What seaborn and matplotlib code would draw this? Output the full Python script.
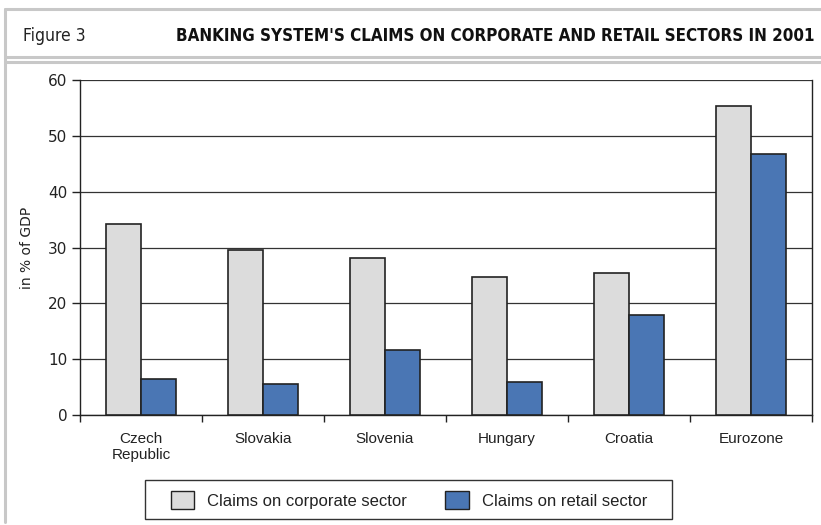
import matplotlib
matplotlib.use("Agg")
import matplotlib.pyplot as plt
import matplotlib.patches as mpatches
import matplotlib.lines as mlines
import seaborn as sns
import pandas as pd

categories = ["Czech\nRepublic", "Slovakia", "Slovenia", "Hungary", "Croatia", "Eurozone"]
corporate = [34.2, 29.6, 28.1, 24.7, 25.4, 55.4]
retail = [6.4, 5.6, 11.6, 5.9, 17.9, 46.8]
series_names = ["Claims on corporate sector", "Claims on retail sector"]
colors = ["#dcdcdc", "#4a76b4"]
yticks = [0, 10, 20, 30, 40, 50, 60]

df = pd.DataFrame({
    "country": categories * 2,
    "value": corporate + retail,
    "series": [series_names[0]] * len(categories) + [series_names[1]] * len(categories),
})

sns.set_theme(style="white")
plt.rcParams["font.family"] = ["Liberation Sans", "DejaVu Sans"]

fig = plt.figure(figsize=(8.21, 5.25), dpi=100)
W, H = 821, 525


def fx(x):
    return x / W


def fy(y):
    return 1 - y / H


# frame lines
gray = "#c8c8c8"
for (x0, y0, x1, y1) in [(5, 9, 821, 9), (5, 57, 821, 57), (5, 62, 821, 62), (5, 9, 5, 522)]:
    fig.add_artist(mlines.Line2D([fx(x0), fx(x1)], [fy(y0), fy(y1)], color=gray, lw=2.2,
                                 transform=fig.transFigure))

fig.text(fx(23), fy(36), "Figure 3", fontsize=12.5, color="#222222", va="center", ha="left",
         family="DejaVu Sans", fontstretch="condensed")
title = fig.text(fx(176), fy(36),
                 "BANKING SYSTEM'S CLAIMS ON CORPORATE AND RETAIL SECTORS IN 2001",
                 fontsize=12, fontweight="bold", color="#111111", va="center", ha="left",
                 family="DejaVu Sans", fontstretch="condensed")
renderer = fig.canvas.get_renderer()
tw = title.get_window_extent(renderer).width
target = 814 - 176
title.set_fontsize(12 * target / tw)

ax = fig.add_axes([fx(80), fy(415), fx(812) - fx(80), fy(80) - fy(415)])
sns.barplot(data=df, x="country", y="value", hue="series", palette=colors, saturation=1,
            width=0.57, gap=0, edgecolor="#222222", linewidth=1.2, ax=ax, legend=False,
            zorder=3)

ax.set_ylim(0, 60)
ax.set_xlim(-0.5, len(categories) - 0.5)
ax.set_yticks(yticks)
ax.set_yticklabels([str(t) for t in yticks], family="DejaVu Sans", fontsize=11, color="#222222")
ax.yaxis.grid(True, color="#333333", lw=0.9, zorder=0)
ax.set_axisbelow(True)
for s in ["left", "bottom", "right"]:
    ax.spines[s].set_visible(True)
    ax.spines[s].set_color("#222222")
    ax.spines[s].set_linewidth(1.0)
ax.spines["top"].set_visible(False)
ax.tick_params(axis="y", direction="out", length=6, width=1, color="#222222", left=True, pad=3)

# category labels centered, ticks at boundaries
ax.set_xticks(range(len(categories)))
ax.set_xticklabels(categories, fontsize=11, color="#222222", linespacing=1.25)
ax.tick_params(axis="x", length=0, pad=12)
ax.set_xticks([i - 0.5 for i in range(len(categories) + 1)], minor=True)
ax.tick_params(axis="x", which="minor", direction="out", length=5, width=1, color="#222222",
               bottom=True)
ax.set_xlabel("")
ax.set_ylabel("in % of GDP", family="DejaVu Sans", fontsize=10, color="#222222", labelpad=10)

# legend (frame drawn as rectangle in figure pixels)
fig.add_artist(mpatches.Rectangle((fx(145), fy(519)), fx(672) - fx(145), fy(480) - fy(519),
                                  transform=fig.transFigure, fill=False, edgecolor="#333333",
                                  lw=1.0))
handles = [mpatches.Patch(facecolor=c, edgecolor="#222222", lw=1.0) for c in colors]
leg = fig.legend(handles, series_names, loc="center", bbox_to_anchor=(fx(409), fy(500)),
                 ncol=2, frameon=False, fontsize=12, handlelength=1.4,
                 handleheight=1.2, columnspacing=2.3, handletextpad=0.8,
                 borderpad=0.0)
for t in leg.get_texts():
    t.set_color("#222222")

fig.savefig("out.png", dpi=100)
